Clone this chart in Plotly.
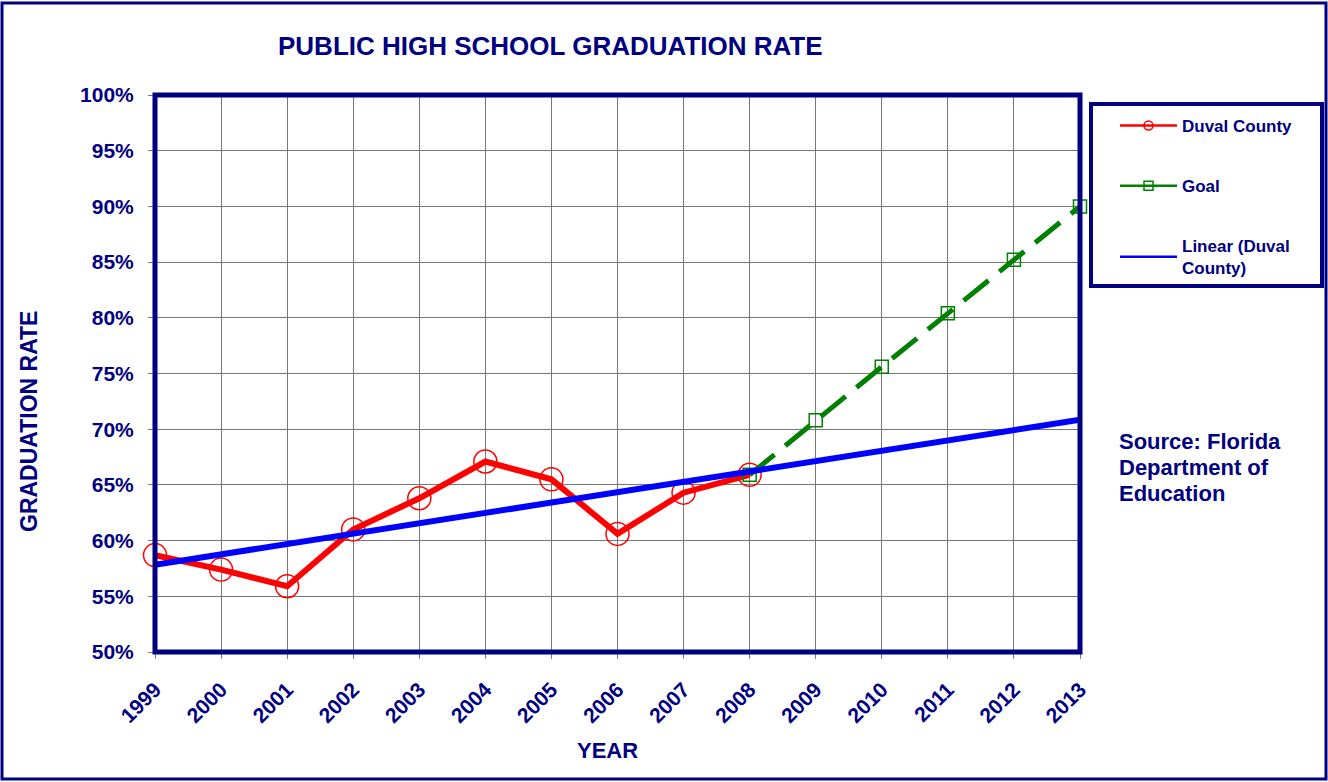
import numpy as np
import plotly.graph_objects as go

years_duval = [1999, 2000, 2001, 2002, 2003, 2004, 2005, 2006, 2007, 2008]
duval = [0.587, 0.574, 0.559, 0.610, 0.638, 0.671, 0.655, 0.606, 0.643, 0.659]
years_goal = [2008, 2009, 2010, 2011, 2012, 2013]
goal = [0.659, 0.708, 0.756, 0.804, 0.852, 0.900]
years_all = list(range(1999, 2014))
source_lines = ["Source: Florida", "Department of", "Education"]

# Linear trendline fitted on Duval County
coef = np.polyfit(np.arange(len(duval)), duval, 1)
trend = [coef[1] + coef[0] * (y - 1999) for y in years_all]

NAVY = "#000080"
RED, GREEN, BLUE = "#FF0000", "#008000", "#0000FF"
FONT = "Arial, Liberation Sans, sans-serif"

fig = go.Figure()
fig.add_trace(go.Scatter(
    x=years_duval, y=duval, name="Duval County", mode="lines+markers",
    line=dict(color=RED, width=6),
    marker=dict(symbol="circle-open", size=23, color=RED, line=dict(width=1.5)),
    showlegend=False, cliponaxis=False))
fig.add_trace(go.Scatter(
    x=years_goal, y=goal, name="Goal", mode="lines+markers",
    line=dict(color=GREEN, width=5, dash="32px,14px"),
    marker=dict(symbol="square-open", size=13, color=GREEN, line=dict(width=1.5)),
    showlegend=False, cliponaxis=False))
fig.add_trace(go.Scatter(
    x=years_all, y=trend, name="Linear (Duval County)", mode="lines",
    line=dict(color=BLUE, width=6), showlegend=False))

# legend entries (thin sample lines like the original)
fig.add_trace(go.Scatter(
    x=[None], y=[None], name="Duval County", mode="lines+markers",
    line=dict(color=RED, width=2.5),
    marker=dict(symbol="circle-open", size=9, color=RED, line=dict(width=1.5)),
    legendgroup="a"))
fig.add_trace(go.Scatter(
    x=[None], y=[None], name="Goal", mode="lines+markers",
    line=dict(color=GREEN, width=2.5),
    marker=dict(symbol="square-open", size=9, color=GREEN, line=dict(width=1.5)),
    legendgroup="b"))
fig.add_trace(go.Scatter(
    x=[None], y=[None], name="Linear (Duval<br>County)", mode="lines",
    line=dict(color=BLUE, width=2.5), legendgroup="c"))

L, R, T, B = 155, 248, 95, 130
W, H = 1328, 782
pw, ph = W - L - R, H - T - B

def px(x):
    return (x - L) / pw

def py(y):
    return (H - B - y) / ph

tickfont = dict(size=21, color=NAVY, family=FONT, weight="bold")

annotations = [
    dict(text="PUBLIC HIGH SCHOOL GRADUATION RATE", xref="paper", yref="paper",
         x=px(550), y=py(46), xanchor="center", yanchor="middle", showarrow=False,
         font=dict(size=26, color=NAVY, family=FONT, weight="bold")),
    dict(text="GRADUATION RATE", xref="paper", yref="paper",
         x=px(29), y=py(422), xanchor="center", yanchor="middle",
         showarrow=False, textangle=-90,
         font=dict(size=23, color=NAVY, family=FONT, weight="bold")),
    dict(text="YEAR", xref="paper", yref="paper",
         x=px(607), y=py(750), xanchor="center", yanchor="middle", showarrow=False,
         font=dict(size=22, color=NAVY, family=FONT, weight="bold")),
]
for i, line in enumerate(source_lines):
    annotations.append(dict(
        text=line, xref="paper", yref="paper",
        x=px(1117), y=py(441 + 26 * i), xanchor="left", yanchor="middle",
        showarrow=False,
        font=dict(size=22, color=NAVY, family=FONT, weight="bold")))

fig.update_layout(
    width=W, height=H,
    margin=dict(l=L, r=R, t=T, b=B),
    paper_bgcolor="white", plot_bgcolor="white",
    font=dict(family=FONT, color=NAVY, size=17, weight="bold"),
    showlegend=True,
    legend=dict(
        x=px(1115), y=py(108), xanchor="left", yanchor="top",
        borderwidth=0, bgcolor="rgba(0,0,0,0)",
        font=dict(size=17, color=NAVY, family=FONT, weight="bold"),
        tracegroupgap=35, traceorder="grouped", itemwidth=57,
    ),
    xaxis=dict(
        range=[1999, 2013], dtick=1, tick0=1999, tickangle=-45,
        showgrid=True, gridcolor="#777777", gridwidth=1,
        ticks="outside", ticklen=6, tickcolor="#777777",
        tickfont=tickfont, ticklabelstandoff=10,
        showline=False, zeroline=False,
    ),
    yaxis=dict(
        range=[0.5, 1.0], dtick=0.05, tickformat=".0%",
        showgrid=True, gridcolor="#777777", gridwidth=1,
        ticks="outside", ticklen=6, tickcolor="#777777",
        tickfont=tickfont, ticklabelstandoff=10,
        showline=False, zeroline=False,
    ),
    shapes=[
        dict(type="rect", xref="paper", yref="paper", x0=0, x1=1, y0=0, y1=1,
             line=dict(color=NAVY, width=5), layer="above"),
        dict(type="rect", xref="paper", yref="paper",
             x0=px(2), x1=px(1326), y0=py(779), y1=py(3),
             line=dict(color=NAVY, width=3)),
        dict(type="rect", xref="paper", yref="paper",
             x0=px(1091), x1=px(1322), y0=py(286), y1=py(104),
             line=dict(color=NAVY, width=4)),
    ],
    annotations=annotations,
)

fig.write_html("out.html", config={"displayModeBar": False},
               post_script="document.body.style.margin='0';")
